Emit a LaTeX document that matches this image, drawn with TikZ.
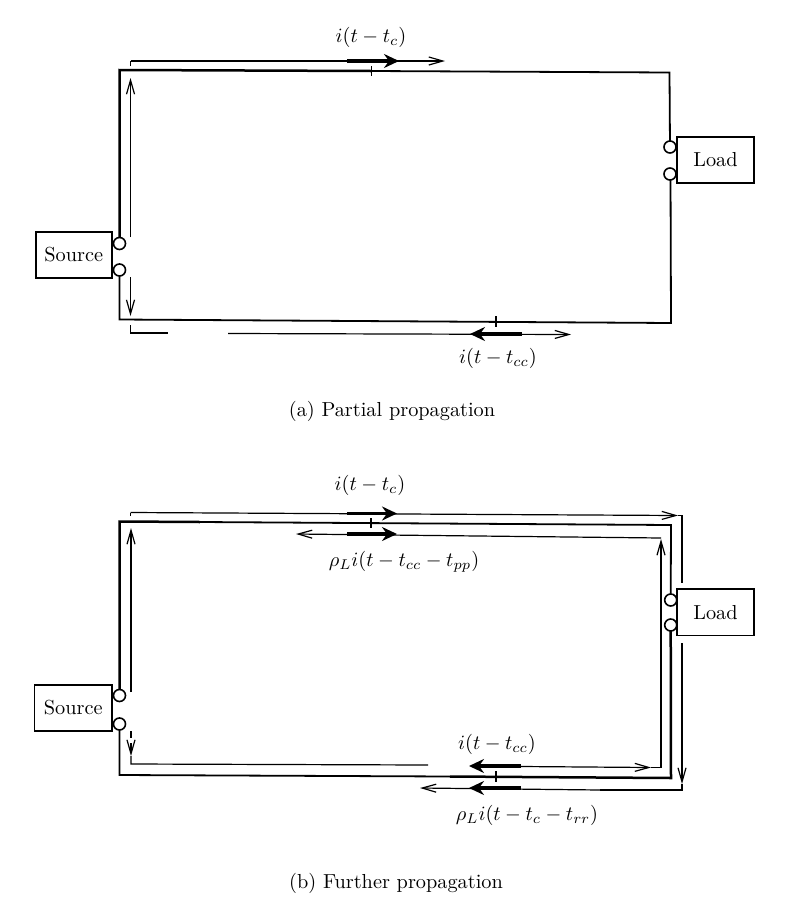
\documentclass[tikz,border=0pt]{standalone}
\usetikzlibrary{arrows.meta}
\newcommand{\bigt}[1]{\scalebox{2.03}{#1}}
\tikzset{
  wire/.style={line width=1.8pt,line join=miter},
  heavy/.style={line width=2.5pt,line join=miter},
  thinl/.style={line width=1.2pt,line join=miter},
  thinar/.style={thinl,-{Straight Barb[length=14pt,width=8pt,line width=1.2pt]}},
  boldar/.style={line width=3.4pt,-{Stealth[length=15pt,width=14pt,inset=5pt]}},
  tickl/.style={line width=1pt},
  term/.style={circle,draw,line width=1.6pt,fill=white,minimum size=12pt,inner sep=0pt},
  devbox/.style={draw,line width=1.7pt,fill=white,inner sep=0pt},
  lab/.style={inner sep=0pt}
}
\begin{document}
\begin{tikzpicture}[x=1pt,y=-1pt]
\useasboundingbox[fill=white] (0,0) rectangle (800,924);
% ---------- panel (a) ----------
\coordinate (aTL) at (119.5,70);
\coordinate (aTR) at (669.5,72.5);
\coordinate (aBL) at (119.5,319.5);
\coordinate (aBR) at (671,323);
\node[devbox,minimum width=76pt,minimum height=46pt] (asrc) at (73.7,255) {\raisebox{2pt}{\bigt{Source}}};
\node[devbox,minimum width=77pt,minimum height=46pt] (aload) at (715.5,160) {\bigt{Load}};
\draw[heavy] (119.5,243.5) -- (aTL) -- (371,71);
\draw[wire] (371,71) -- (aTR) -- (670,147);
\draw[wire] (119.5,270) -- (aBL) -- (aBR) -- (670.5,174);
\node[term] (as1) at (119.5,243.5) {};
\node[term] (as2) at (119.5,270) {};
\node[term] (al1) at (670,147) {};
\node[term] (al2) at (670,174) {};
\draw[tickl] (371,66) -- (371,76);
\draw[line width=1.3pt] (496,316) -- (496,327);
\draw[thinl] (130.5,66) -- (130.5,61);
\draw[thinar] (130.5,61) -- (445,61);
\draw[boldar] (347,61) -- (399,61);
\draw[thinar] (130.5,237) -- (130.5,78);
\draw[thinar] (130.5,277) -- (130.5,316);
\draw[thinl] (130.5,325) -- (130.5,333) -- (168,333);
\draw[thinar] (228,333.5) -- (571,334.5);
\draw[boldar] (522,334) -- (470,334);
\node[lab] (la1) at (371,37) {\bigt{$i(t-t_c)$}};
\node[lab] (la2) at (498,358) {\bigt{$i(t-t_{cc})$}};
\node[lab] (la3) at (392,411) {\bigt{(a) Partial propagation}};
% ---------- panel (b) ----------
\coordinate (bTL) at (119.5,521.5);
\coordinate (bTR) at (671,525);
\coordinate (bBL) at (119.5,775);
\coordinate (bBR) at (671,778);
\node[devbox,minimum width=77.5pt,minimum height=46pt] (bsrc) at (73.2,708) {\raisebox{2pt}{\bigt{Source}}};
\node[devbox,minimum width=77pt,minimum height=46.5pt] (bload) at (715.5,612.3) {\bigt{Load}};
\draw[heavy] (119.5,695.5) -- (bTL) -- (200,522);
\draw[wire] (200,522) -- (bTR) -- (670.7,600);
\draw[wire] (119.5,724) -- (bBL) -- (450,776.5);
\draw[heavy] (450,776.5) -- (bBR) -- (670.7,625);
\node[term] (bs1) at (119.5,695.5) {};
\node[term] (bs2) at (119.5,724) {};
\node[term] (bl1) at (670.7,600) {};
\node[term] (bl2) at (670.7,625) {};
\draw[line width=1.3pt] (371,518) -- (371,528);
\draw[line width=1.3pt] (496,771) -- (496,782);
% outer thin path
\draw[thinl] (130.5,516) -- (130.5,512.5);
\draw[thinar] (130.5,512.5) -- (678,515.5);
\draw[thinl] (678,515.5) -- (682,515.5) -- (682,583);
\draw[thinar] (682,643) -- (682,784);
\draw[thinl] (682,784) -- (682,790) -- (600,790);
\draw[thinar] (600,790) -- (420,788);
\draw[boldar] (347,513.5) -- (397,513.5);
\draw[boldar] (521,788) -- (469,788);
% inner thin path
\draw[thinar] (661,538) -- (296,534);
\draw[boldar] (347,534) -- (397,534);
\draw[thinar] (661,767.5) -- (661,539);
\draw[thinar] (521,766.5) -- (651,767.5);
\draw[thinl] (651,767.5) -- (661,767.5);
\draw[boldar] (521,766) -- (469,766);
\draw[thinar] (131,692) -- (131,528);
\draw[thinl] (131,731) -- (131,738);
\draw[thinar] (131,743) -- (131,756);
\draw[thinl] (131,756) -- (131,764) -- (428,765);
\node[lab] (lb1) at (370,485) {\bigt{$i(t-t_c)$}};
\node[lab] (lb2) at (404,562) {\bigt{$\rho_L i(t-t_{cc}-t_{pp})$}};
\node[lab] (lb3) at (497,744) {\bigt{$i(t-t_{cc})$}};
\node[lab] (lb4) at (527,815) {\bigt{$\rho_L i(t-t_c-t_{rr})$}};
\node[lab] (lb5) at (396,883) {\bigt{(b) Further propagation}};
\end{tikzpicture}
\end{document}
